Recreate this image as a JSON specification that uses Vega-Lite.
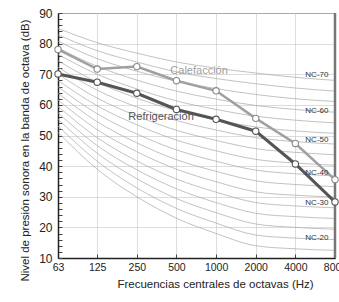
{
  "$schema": "https://vega.github.io/schema/vega-lite/v6.json",
  "width": 277,
  "height": 245,
  "autosize": {"type": "none"},
  "padding": {"left": 58, "top": 13, "right": 4, "bottom": 44},
  "background": "white",
  "config": {"view": {"stroke": "#999", "strokeWidth": 1}, "font": "Liberation Sans"},
  "datasets": {
    "nc": [
      {"c":0,"f":63,"v":51},{"c":0,"f":125,"v":39},{"c":0,"f":250,"v":30},{"c":0,"f":500,"v":23},{"c":0,"f":1000,"v":18},{"c":0,"f":2000,"v":14},{"c":0,"f":4000,"v":13},{"c":0,"f":8000,"v":12.5},
      {"c":1,"f":63,"v":53.1},{"c":1,"f":125,"v":41.6},{"c":1,"f":250,"v":32.9},{"c":1,"f":500,"v":26.2},{"c":1,"f":1000,"v":21.4},{"c":1,"f":2000,"v":17.5},{"c":1,"f":4000,"v":16.5},{"c":1,"f":8000,"v":16},
      {"c":2,"f":63,"v":55.3},{"c":2,"f":125,"v":44.2},{"c":2,"f":250,"v":35.9},{"c":2,"f":500,"v":29.4},{"c":2,"f":1000,"v":24.8},{"c":2,"f":2000,"v":21.1},{"c":2,"f":4000,"v":20},{"c":2,"f":8000,"v":19.4},
      {"c":3,"f":63,"v":57.4},{"c":3,"f":125,"v":46.7},{"c":3,"f":250,"v":38.8},{"c":3,"f":500,"v":32.6},{"c":3,"f":1000,"v":28.1},{"c":3,"f":2000,"v":24.6},{"c":3,"f":4000,"v":23.5},{"c":3,"f":8000,"v":22.9},
      {"c":4,"f":63,"v":59.5},{"c":4,"f":125,"v":49.3},{"c":4,"f":250,"v":41.7},{"c":4,"f":500,"v":35.8},{"c":4,"f":1000,"v":31.5},{"c":4,"f":2000,"v":28.1},{"c":4,"f":4000,"v":27},{"c":4,"f":8000,"v":26.4},
      {"c":5,"f":63,"v":61.6},{"c":5,"f":125,"v":51.9},{"c":5,"f":250,"v":44.7},{"c":5,"f":500,"v":39},{"c":5,"f":1000,"v":34.9},{"c":5,"f":2000,"v":31.6},{"c":5,"f":4000,"v":30.5},{"c":5,"f":8000,"v":29.9},
      {"c":6,"f":63,"v":63.8},{"c":6,"f":125,"v":54.5},{"c":6,"f":250,"v":47.6},{"c":6,"f":500,"v":42.1},{"c":6,"f":1000,"v":38.3},{"c":6,"f":2000,"v":35.2},{"c":6,"f":4000,"v":34},{"c":6,"f":8000,"v":33.3},
      {"c":7,"f":63,"v":65.9},{"c":7,"f":125,"v":57.1},{"c":7,"f":250,"v":50.5},{"c":7,"f":500,"v":45.3},{"c":7,"f":1000,"v":41.6},{"c":7,"f":2000,"v":38.7},{"c":7,"f":4000,"v":37.5},{"c":7,"f":8000,"v":36.8},
      {"c":8,"f":63,"v":68},{"c":8,"f":125,"v":59.7},{"c":8,"f":250,"v":53.5},{"c":8,"f":500,"v":48.5},{"c":8,"f":1000,"v":45},{"c":8,"f":2000,"v":42.2},{"c":8,"f":4000,"v":41},{"c":8,"f":8000,"v":40.3},
      {"c":9,"f":63,"v":70.1},{"c":9,"f":125,"v":62.2},{"c":9,"f":250,"v":56.4},{"c":9,"f":500,"v":51.7},{"c":9,"f":1000,"v":48.4},{"c":9,"f":2000,"v":45.7},{"c":9,"f":4000,"v":44.5},{"c":9,"f":8000,"v":43.7},
      {"c":10,"f":63,"v":72.3},{"c":10,"f":125,"v":64.8},{"c":10,"f":250,"v":59.3},{"c":10,"f":500,"v":54.9},{"c":10,"f":1000,"v":51.8},{"c":10,"f":2000,"v":49.3},{"c":10,"f":4000,"v":48},{"c":10,"f":8000,"v":47.2},
      {"c":11,"f":63,"v":74.4},{"c":11,"f":125,"v":67.4},{"c":11,"f":250,"v":62.2},{"c":11,"f":500,"v":58.1},{"c":11,"f":1000,"v":55.1},{"c":11,"f":2000,"v":52.8},{"c":11,"f":4000,"v":51.5},{"c":11,"f":8000,"v":50.7},
      {"c":12,"f":63,"v":76.5},{"c":12,"f":125,"v":70},{"c":12,"f":250,"v":65.2},{"c":12,"f":500,"v":61.3},{"c":12,"f":1000,"v":58.5},{"c":12,"f":2000,"v":56.3},{"c":12,"f":4000,"v":55},{"c":12,"f":8000,"v":54.1},
      {"c":13,"f":63,"v":78.6},{"c":13,"f":125,"v":72.6},{"c":13,"f":250,"v":68.1},{"c":13,"f":500,"v":64.5},{"c":13,"f":1000,"v":61.9},{"c":13,"f":2000,"v":59.8},{"c":13,"f":4000,"v":58.5},{"c":13,"f":8000,"v":57.6},
      {"c":14,"f":63,"v":80.8},{"c":14,"f":125,"v":75.1},{"c":14,"f":250,"v":71},{"c":14,"f":500,"v":67.7},{"c":14,"f":1000,"v":65.3},{"c":14,"f":2000,"v":63.4},{"c":14,"f":4000,"v":62},{"c":14,"f":8000,"v":61.1},
      {"c":15,"f":63,"v":82.9},{"c":15,"f":125,"v":77.7},{"c":15,"f":250,"v":74},{"c":15,"f":500,"v":70.8},{"c":15,"f":1000,"v":68.6},{"c":15,"f":2000,"v":66.9},{"c":15,"f":4000,"v":65.5},{"c":15,"f":8000,"v":64.5},
      {"c":16,"f":63,"v":85},{"c":16,"f":125,"v":80.3},{"c":16,"f":250,"v":76.9},{"c":16,"f":500,"v":74},{"c":16,"f":1000,"v":72},{"c":16,"f":2000,"v":70.4},{"c":16,"f":4000,"v":69},{"c":16,"f":8000,"v":68}
    ],
    "series": [
      {"s":"Calefacción","f":63,"v":78.1},{"s":"Calefacción","f":125,"v":71.7},{"s":"Calefacción","f":250,"v":72.5},{"s":"Calefacción","f":500,"v":67.9},{"s":"Calefacción","f":1000,"v":64.6},{"s":"Calefacción","f":2000,"v":55.6},{"s":"Calefacción","f":4000,"v":47.4},{"s":"Calefacción","f":8000,"v":35.6},
      {"s":"Refrigeración","f":63,"v":70.1},{"s":"Refrigeración","f":125,"v":67.4},{"s":"Refrigeración","f":250,"v":63.8},{"s":"Refrigeración","f":500,"v":58.5},{"s":"Refrigeración","f":1000,"v":55.3},{"s":"Refrigeración","f":2000,"v":51.4},{"s":"Refrigeración","f":4000,"v":40.7},{"s":"Refrigeración","f":8000,"v":28.3}
    ],
    "labels": [
      {"s":"Calefacción","f":743,"v":71},
      {"s":"Refrigeración","f":382,"v":56}
    ],
    "nclabels": [
      {"t":"NC-70","f":5830,"v":69.7},
      {"t":"NC-60","f":5830,"v":58},
      {"t":"NC-50","f":5830,"v":48.5},
      {"t":"NC-40","f":5830,"v":37.7},
      {"t":"NC-30","f":5830,"v":27.9},
      {"t":"NC-20","f":5830,"v":16.5}
    ],
    "edge": [{"f":8000}]
  },
  "encoding": {
    "x": {
      "field": "f", "type": "quantitative",
      "scale": {"type": "log", "domain": [63, 8000], "nice": false},
      "axis": {
        "values": [63,125,250,500,1000,2000,4000,8000],
        "format": "d",
        "labelFlush": false,
        "labelOverlap": false,
        "labelFont": "Liberation Sans",
        "labelFontSize": 10.5,
        "labelColor": "#222",
        "labelPadding": 8,
        "tickSize": -4,
        "tickColor": "#444",
        "grid": true,
        "gridColor": "#bbb",
        "gridDash": [1, 1],
        "domainColor": "#222",
        "domainWidth": 1.5,
        "title": "Frecuencias centrales de octavas (Hz)",
        "titleFontSize": 11.5,
        "titleFontWeight": "normal",
        "titleColor": "#222",
        "titlePadding": 6,
        "titleX": 157
      }
    },
    "y": {
      "field": "v", "type": "quantitative",
      "scale": {"domain": [10, 90], "nice": false},
      "axis": {
        "values": [10,12,14,16,18,20,22,24,26,28,30,32,34,36,38,40,42,44,46,48,50,52,54,56,58,60,62,64,66,68,70,72,74,76,78,80,82,84,86,88,90],
        "labelExpr": "datum.value % 10 === 0 ? datum.label : ''",
        "labelOverlap": false,
        "labelFontSize": 12,
        "labelColor": "#222",
        "labelPadding": 10,
        "tickSize": -4,
        "tickColor": "#444",
        "grid": true,
        "gridColor": "#bbb",
        "gridDash": [1, 1],
        "gridOpacity": {"condition": {"test": "datum.value % 10 === 0", "value": 1}, "value": 0},
        "domainColor": "#222",
        "domainWidth": 1.5,
        "title": "Nivel de presión sonora en la banda de octava (dB)",
        "titleFontSize": 11.5,
        "titleFontWeight": "normal",
        "titleColor": "#222",
        "titlePadding": 8,
        "titleY": 137
      }
    }
  },
  "layer": [
    {
      "data": {"name": "nc"},
      "mark": {"type": "line", "interpolate": "monotone", "color": "#a8a8a8", "strokeWidth": 0.7},
      "encoding": {"detail": {"field": "c"}}
    },
    {
      "data": {"name": "edge"},
      "mark": {"type": "rule", "color": "#777", "strokeWidth": 2.5},
      "encoding": {"x": {"field": "f", "type": "quantitative"}, "y": null}
    },
    {
      "data": {"name": "series"},
      "mark": {"type": "line"},
      "encoding": {
        "color": {"field": "s", "type": "nominal", "scale": {"domain": ["Calefacción", "Refrigeración"], "range": ["#a0a0a0", "#555555"]}, "legend": null},
        "strokeWidth": {"field": "s", "type": "nominal", "scale": {"domain": ["Calefacción", "Refrigeración"], "range": [2.5, 3]}, "legend": null}
      }
    },
    {
      "data": {"name": "series"},
      "mark": {"type": "point", "filled": false, "fill": "white", "size": 40, "strokeWidth": 1.1, "opacity": 1},
      "encoding": {
        "stroke": {"field": "s", "type": "nominal", "scale": {"domain": ["Calefacción", "Refrigeración"], "range": ["#8a8a8a", "#555555"]}, "legend": null}
      }
    },
    {
      "data": {"name": "labels"},
      "mark": {"type": "text", "fontSize": 11, "font": "Liberation Sans"},
      "encoding": {
        "text": {"field": "s"},
        "color": {"field": "s", "type": "nominal", "scale": {"domain": ["Calefacción", "Refrigeración"], "range": ["#a0a0a0", "#777777"]}, "legend": null}
      }
    },
    {
      "data": {"name": "nclabels"},
      "mark": {"type": "text", "fontSize": 8, "color": "#333", "font": "Liberation Sans"},
      "encoding": {"text": {"field": "t"}}
    }
  ]
}
